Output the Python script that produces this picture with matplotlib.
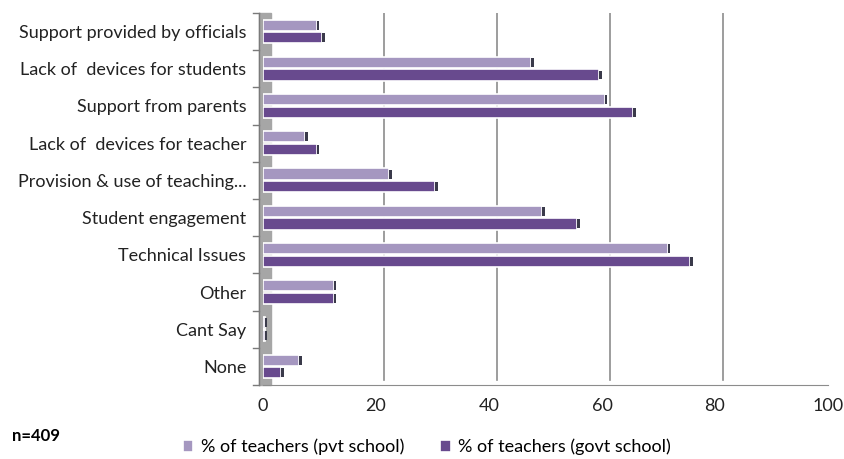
import matplotlib.pyplot as plt
import matplotlib.transforms as mtransforms
import numpy as np

plt.rcParams["font.family"] = ["Lato", "DejaVu Sans"]

# categories, top to bottom as in the picture
categories = [
    "Support provided by officials",
    "Lack of  devices for students",
    "Support from parents",
    "Lack of  devices for teacher",
    "Provision & use of teaching...",
    "Student engagement",
    "Technical Issues",
    "Other",
    "Cant Say",
    "None",
]
pvt_school = [9.5, 47.5, 60.5, 7.5, 22.3, 49.4, 71.6, 12.5, 0.3, 6.4]
govt_school = [10.5, 59.5, 65.5, 9.5, 30.5, 55.6, 75.6, 12.5, 0.3, 3.2]
x_ticks = [0, 20, 40, 60, 80, 100]

pvt_color = "#a597c0"
govt_color = "#684a8e"
cap_color = "#3a3a4a"

fig = plt.figure(figsize=(8.44, 4.59), dpi=100)
ax = fig.add_axes([0.3116, 0.161, 0.6694, 0.811])

y = np.arange(len(categories))
h = 0.3

# light bars sit above dark ones within each category
ax.barh(y - h / 2 - 0.02, pvt_school, height=h, color=pvt_color,
        edgecolor="white", linewidth=1.2, zorder=3,
        label="% of teachers (pvt school)")
ax.barh(y + h / 2 + 0.02, govt_school, height=h, color=govt_color,
        edgecolor="white", linewidth=1.2, zorder=3,
        label="% of teachers (govt school)")

# little dark end caps for the 3D look
ax.barh(y - h / 2 - 0.02, 0.45, left=pvt_school, height=h * 0.8,
        color=cap_color, zorder=4)
ax.barh(y + h / 2 + 0.02, 0.45, left=govt_school, height=h * 0.8,
        color=cap_color, zorder=4)

ax.set_xlim(0, 100)
ax.set_ylim(len(categories) - 0.5, -0.5)
ax.set_xticks(x_ticks)
ax.set_yticks(y)
ax.set_yticklabels(categories, fontsize=13)
ax.tick_params(axis="x", labelsize=13, length=0, pad=9, colors="#222222")
ax.tick_params(axis="y", length=0, pad=12, colors="#222222")

# back-wall grid lines, shifted a little right like the 3D original
shift = mtransforms.ScaledTranslation(8 / 100, 0, fig.dpi_scale_trans)
for t in x_ticks[1:]:
    ax.plot([t, t], [len(categories) - 0.65, -0.5], color="#8c8c8c",
            lw=1.2, zorder=1, transform=ax.transData + shift)

for s in ["top", "right", "left"]:
    ax.spines[s].set_visible(False)
ax.spines["bottom"].set_color("#8c8c8c")

# grey side wall with tick marks
ax.axvspan(-0.7, 1.4, color="#a6a6a6", zorder=2, clip_on=False)
ax.axvline(-0.7, color="#7a7a7a", lw=1, zorder=2, clip_on=False)
for b in np.arange(-0.5, len(categories) + 0.5, 1):
    ax.plot([-1.8, -0.7], [b, b], color="#7a7a7a", lw=1, clip_on=False)

ax.legend(loc="upper center", bbox_to_anchor=(0.29, -0.1), ncol=2,
          frameon=False, fontsize=13, handlelength=0.6, handleheight=0.6,
          columnspacing=2.0, handletextpad=0.4)
fig.text(0.014, 0.04, "n=409", fontsize=12, fontweight="bold")

fig.savefig("out.png", dpi=100)
